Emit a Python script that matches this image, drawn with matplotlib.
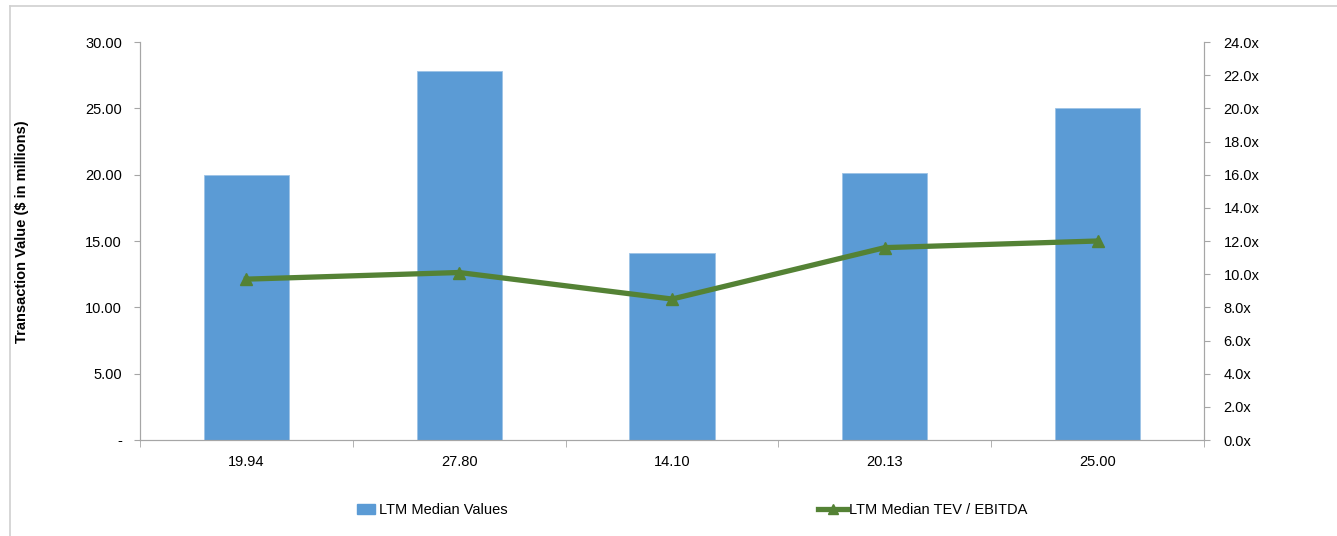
import matplotlib
matplotlib.use('Agg')
import matplotlib.pyplot as plt
from matplotlib.lines import Line2D
import matplotlib.patches as mpatches
import numpy as np

plt.rcParams['font.family'] = ['Liberation Sans', 'DejaVu Sans']

categories = ['19.94', '27.80', '14.10', '20.13', '25.00']
median_values = [19.94, 27.80, 14.10, 20.13, 25.00]
tev_ebitda = [9.7, 10.1, 8.5, 11.6, 12.0]

bar_color = '#5B9BD5'
line_color = '#548235'
axis_color = '#A6A6A6'

fig = plt.figure(figsize=(13.37, 5.36), dpi=100)
ax = fig.add_axes([140 / 1337, 1 - 440 / 536, 1064 / 1337, 398 / 536])
ax2 = ax.twinx()

x = np.arange(len(categories))
ax.bar(x, median_values, width=0.4, color=bar_color, edgecolor='#9DC3E6', linewidth=0.6, zorder=2)
ax2.plot(x, tev_ebitda, color=line_color, lw=3.8, marker='^', ms=8, zorder=3)

ax.set_xlim(-0.5, len(categories) - 0.5)
ax.set_ylim(0, 30)
ax2.set_ylim(0, 24)

ax.set_yticks(np.arange(0, 31, 5))
ax.set_yticklabels(['-'] + ['%.2f' % v for v in np.arange(5, 31, 5)])
ax2.set_yticks(np.arange(0, 25, 2))
ax2.set_yticklabels(['%.1fx' % v for v in np.arange(0, 25, 2)])

ax.set_xticks(x)
ax.set_xticklabels(categories)
ax.set_xticks(np.arange(-0.5, len(categories), 1), minor=True)
ax.tick_params(axis='x', which='major', length=0, pad=11, labelsize=10.5)
ax.tick_params(axis='x', which='minor', length=5, color=axis_color, direction='out')
ax.tick_params(axis='y', length=4, color=axis_color, pad=9, labelsize=10.5)
ax2.tick_params(axis='y', length=4, color=axis_color, pad=10, labelsize=10.5)

for a in (ax, ax2):
    a.spines['top'].set_visible(False)
    for s in ('left', 'right', 'bottom'):
        a.spines[s].set_color(axis_color)

ax.set_ylabel('Transaction Value ($ in millions)', fontsize=10.5, fontweight='bold')
ax.yaxis.set_label_coords((29 - 140) / 1064, (440 - 232) / 398)
# right axis title, cut off at the edge as in the original
fig.text(1333 / 1337, 1 - 235 / 536, 'TEV / EBITDA', rotation=270, ha='left', va='center',
         fontsize=10.5, fontweight='bold')

blue_patch = mpatches.Patch(color=bar_color, label='LTM Median Values')
green_line = Line2D([], [], color=line_color, lw=3.8, marker='^', ms=7, label='LTM Median TEV / EBITDA')
fig.legend(handles=[blue_patch], loc='center left', bbox_to_anchor=(344 / 1337, 1 - 510 / 536),
           frameon=False, fontsize=10.5, handlelength=1.2, handletextpad=0.3)
fig.legend(handles=[green_line], loc='center left', bbox_to_anchor=(805 / 1337, 1 - 510 / 536),
           frameon=False, fontsize=10.5, handlelength=2.0, handletextpad=0.1)

# outer chart frame (cut off at right and bottom)
fig.add_artist(Line2D([10 / 1337, 10 / 1337], [0, 1 - 6 / 536], color='#D0D0D0', lw=1.2, transform=fig.transFigure))
fig.add_artist(Line2D([10 / 1337, 1], [1 - 6 / 536, 1 - 6 / 536], color='#D0D0D0', lw=1.2, transform=fig.transFigure))

fig.savefig('out.png', dpi=100)
